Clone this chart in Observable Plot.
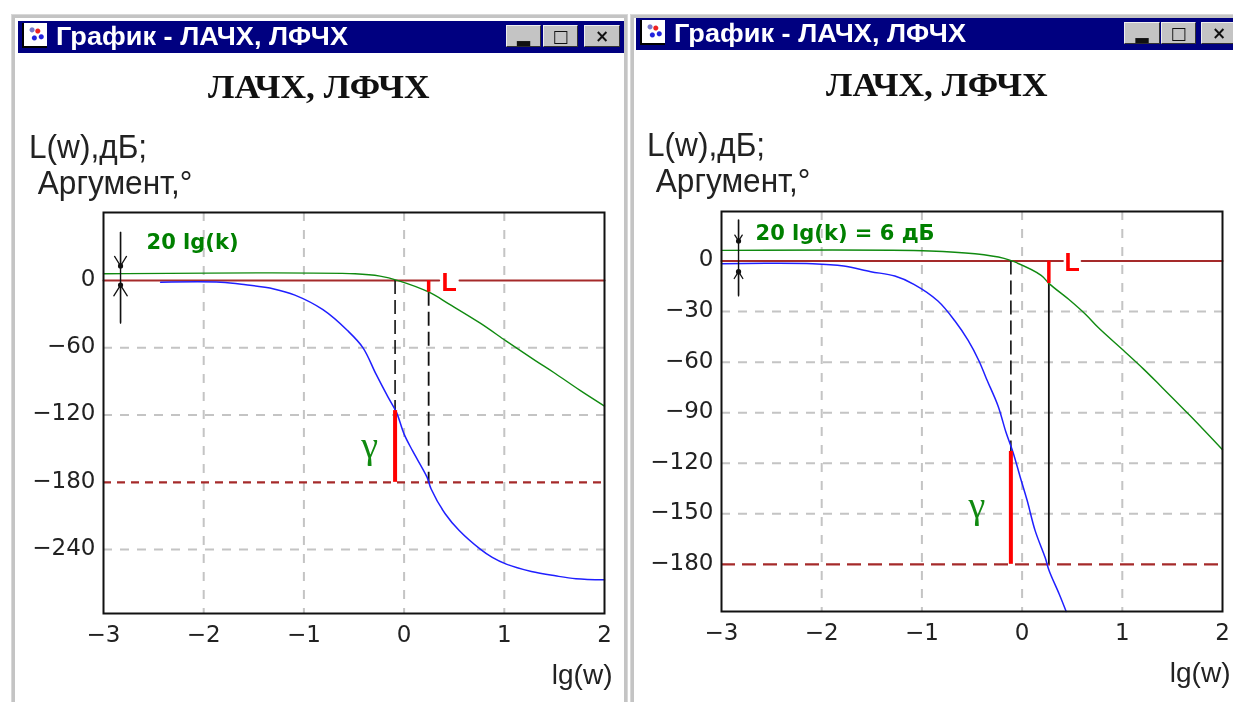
<!DOCTYPE html>
<html lang="ru"><head><meta charset="utf-8">
<script src="https://cdn.jsdelivr.net/npm/d3@7"></script>
<script src="https://cdn.jsdelivr.net/npm/@observablehq/plot@0.6"></script>
<style>
html,body{margin:0;padding:0;background:#fff;overflow:hidden}
#page{position:relative;width:1233px;height:702px;overflow:hidden;background:#fff;filter:blur(.45px)}
#page div{position:absolute;white-space:pre}
.frame{background:#fff;border:1px solid #d8d8d8;box-shadow:inset 0 0 0 3px #c4c4c4;box-sizing:border-box}
.bar{background:#000080}
.wt{color:#fff;font:bold 23px "Liberation Sans";transform-origin:0 0;transform:scale(1.18,1.12)}
.btn{background:#c4c4c4;border:1px solid;border-color:#eee #333 #333 #eee;box-sizing:border-box;color:#111;font:bold 17px/20px "DejaVu Sans";text-align:center}
.icon{background:radial-gradient(circle at 60% 35%,#e22 2px,transparent 3px),radial-gradient(circle at 45% 65%,#22d 2px,transparent 3px),radial-gradient(circle at 75% 60%,#22d 2px,transparent 3px),radial-gradient(circle at 35% 30%,#77c 2px,transparent 3px),#fff;border-left:2px solid #000;border-bottom:2px solid #000;box-sizing:border-box}
.ct{font:bold 30px "Liberation Serif";color:#111;transform-origin:0 0;transform:scale(1.18,1.1)}
.yl{font:27px "Liberation Sans";color:#222;transform-origin:0 0;transform:scale(1.17,1.2)}
svg{position:absolute;overflow:visible;background:transparent}
</style></head><body><div id="page"></div>
<script>
const windowTitle = "График - ЛАЧХ, ЛФЧХ";
const chartTitle = "ЛАЧХ, ЛФЧХ";
const yLabel1 = "L(w),дБ;";
const yLabel2 = " Аргумент,°";
const xLabel = "lg(w)";
const xTicks = [-3,-2,-1,0,1,2];

// Left chart
const yTicksA = [0,-60,-120,-180,-240];
const blueAx = [-2.43,-1.83,-1.58,-1.3,-1.09,-0.81,-0.565,-0.41,-0.28,-0.16,-0.076,0,0.085,0.23,0.27,0.41,0.55,0.76,0.88,1.02,1.27,1.51,1.715,2];
const blueAy = [-1.5,-1.5,-3.8,-7.5,-13,-26,-44.6,-60,-83.5,-104,-117.6,-137,-152,-175.6,-186,-208,-223,-239.6,-247,-253,-259.5,-263.4,-266,-267];
const greenAx = [-3,-0.49,-0.24,-0.06,0.25,0.45,0.76,1.02,1.31,1.49,1.756,2];
const greenAy = [6,6,3.9,0,-10.4,-21,-38,-54,-71.4,-81.8,-98,-112];

// Right chart
const yTicksB = [0,-30,-60,-90,-120,-150,-180];
const blueBx = [-3,-2.09,-1.78,-1.51,-1.27,-1.08,-0.84,-0.67,-0.54,-0.43,-0.355,-0.24,-0.16,-0.09,-0.02,0.05,0.13,0.23,0.27,0.37,0.44];
const blueBy = [-1.6,-1.6,-3,-6.3,-8.9,-13.8,-23.7,-35.6,-47,-59.3,-70,-86,-101.8,-113.6,-128,-142,-160,-176,-183.8,-197.6,-208];
const greenBx = [-3,-0.92,-0.47,-0.18,-0.08,0.19,0.27,0.485,0.64,0.76,1.01,1.21,1.38,1.68,2];
const greenBy = [6.3,6,4.3,1.6,-0.4,-8.5,-13.4,-23.7,-32,-39.5,-53,-64,-74,-92,-112];

const zip = (xs, ys) => xs.map((x, i) => ({x, y: ys[i]}));
const BROWN = "#a52a2a", GREEN = "#108a10", BLUE = "#1f1fff", RED = "#ff0000", GRID = "#c4c4c4";
const fmt = d => d < 0 ? "−" + (-d) : String(d);

function chart(o) {
  const zeroSegs = [[-3, o.gap[0]], [o.gap[1], 2]];
  return Plot.plot({
    width: o.w + 80 + 30, height: o.h + 10 + 89,
    marginLeft: 80, marginRight: 30, marginTop: 10, marginBottom: 89,
    style: {background: "transparent", fontFamily: "DejaVu Sans", fontSize: "23px", color: "#222", overflow: "visible"},
    x: {domain: [-3, 2]},
    y: {domain: o.yDomain},
    marks: [
      Plot.ruleX(xTicks.slice(1, -1), {stroke: GRID, strokeWidth: 2, strokeDasharray: "9,9"}),
      Plot.ruleY(o.yTicks.filter(d => d !== 0 && d !== -180), {stroke: GRID, strokeWidth: 2, strokeDasharray: "9,8"}),
      Plot.axisX({ticks: xTicks, tickFormat: fmt, tickSize: 0, tickPadding: 12, label: null, fontSize: 23, style: {letterSpacing: "2px"}}),
      Plot.axisY({ticks: o.yTicks, tickFormat: fmt, tickSize: 0, tickPadding: 8, label: null, dy: -2, fontSize: 23, style: {letterSpacing: "2px"}}),
      ...zeroSegs.map(s => Plot.line(s.map(x => ({x, y: 0})), {x: "x", y: "y", stroke: BROWN, strokeWidth: 2})),
      Plot.ruleY([-180], {stroke: BROWN, strokeWidth: 2.2, strokeDasharray: o.dash180}),
      Plot.ruleX([o.phaseX], {y1: 0, y2: o.phaseY, stroke: "#111", strokeWidth: 1.6, strokeDasharray: "14,6"}),
      Plot.ruleX([o.gainX], {y1: o.gainY, y2: -180, stroke: "#111", strokeWidth: 1.8, strokeDasharray: o.gainDash}),
      Plot.line(zip(o.greenX, o.greenY), {x: "x", y: "y", stroke: GREEN, strokeWidth: 1.4, curve: "catmull-rom"}),
      Plot.line(zip(o.blueX, o.blueY), {x: "x", y: "y", stroke: BLUE, strokeWidth: 1.5, curve: "catmull-rom"}),
      Plot.ruleX([o.phaseX], {y1: o.phaseY, y2: -180, stroke: RED, strokeWidth: 4}),
      Plot.ruleX([o.gainX], {y1: 0, y2: o.gainY, stroke: RED, strokeWidth: 3.5}),
      Plot.ruleX([o.arrowX], {y1: o.arrowTop, y2: o.arrowBottom, stroke: "#111", strokeWidth: 1.4}),
      Plot.arrow([{}], {x1: o.arrowX, x2: o.arrowX, y1: o.arrowTop, y2: o.tipTop, stroke: "#111", strokeWidth: 1.3, headLength: 42, headAngle: 64, bend: 0}),
      Plot.arrow([{}], {x1: o.arrowX, x2: o.arrowX, y1: o.arrowBottom, y2: o.tipBottom, stroke: "#111", strokeWidth: 1.3, headLength: 42, headAngle: 64, bend: 0}),
      Plot.dot([o.tipTop, o.tipBottom], {x: () => o.arrowX, y: d => d, r: 2.6, fill: "#111"}),
      Plot.text([o.kLabel], {x: o.kX, y: o.kY, text: d => d, textAnchor: "start", fill: "#008000", fontWeight: "bold", fontSize: 21, fontFamily: "DejaVu Sans"}),
      Plot.text(["L"], {x: o.lX, y: o.lY, text: d => d, fill: RED, fontWeight: "bold", fontSize: 25, fontFamily: "Liberation Sans"}),
      Plot.text(["γ"], {x: o.gX, y: o.gY, text: d => d, fill: GREEN, fontSize: 38, fontFamily: "Liberation Serif"}),
      Plot.frame({stroke: "#111", strokeWidth: 2}),
      Plot.text([xLabel], {frameAnchor: "bottom-right", text: d => d, dx: 8, dy: 70, fontSize: 28, fill: "#222", textAnchor: "end", fontFamily: "Liberation Sans", style: {letterSpacing: "1.5px"}})
    ]
  });
}

const page = document.getElementById("page");
function div(cls, l, t, w, h, txt) {
  const d = document.createElement("div");
  d.className = cls;
  d.style.left = l + "px"; d.style.top = t + "px";
  if (w != null) d.style.width = w + "px";
  if (h != null) d.style.height = h + "px";
  if (txt != null) d.textContent = txt;
  page.appendChild(d);
  return d;
}

function win(o, c) {
  div("frame", o.fx, o.fy, o.fw, 720);
  div("bar", o.bx, o.by, o.bw, 32);
  div("icon", o.bx + 4, o.by + 2, 25, 25);
  div("wt", o.bx + 38, o.by + 0, null, null, windowTitle);
  o.btn.forEach((b, i) => {
    div("btn", b, o.by + 4, o.btnW[i], 22, ["▂", "□", "×"][i]);
  });
  div("ct", o.tx, o.ty, null, null, chartTitle);
  div("yl", o.lx, o.ly, null, null, yLabel1);
  div("yl", o.lx, o.ly + 36, null, null, yLabel2);
  const svg = chart(c);
  svg.style.left = (c.left - 80) + "px";
  svg.style.top = (c.top - 10) + "px";
  page.appendChild(svg);
}

win({fx: 11, fy: 14, fw: 617, bx: 18, by: 21, bw: 606, btn: [506, 543, 584], btnW: [35, 35, 36], tx: 208, ty: 68, lx: 29, ly: 129},
    {left: 103, top: 212, w: 501, h: 401, yDomain: [-297, 60.7], yTicks: yTicksA,
     gap: [0.35, 0.553], dash180: "8,6", phaseX: -0.09, phaseY: -116, gainX: 0.245, gainY: -10.4, gainDash: "14,6",
     greenX: greenAx, greenY: greenAy, blueX: blueAx, blueY: blueAy,
     arrowX: -2.83, arrowTop: 43, arrowBottom: -38, tipTop: 13, tipBottom: -4,
     kLabel: "20 lg(k)", kX: -2.57, kY: 34, lX: 0.45, lY: -2, gX: -0.345, gY: -147});

win({fx: 630, fy: 14, fw: 620, bx: 636, by: 18, bw: 600, btn: [1124, 1161, 1201], btnW: [36, 35, 36], tx: 826, ty: 66, lx: 647, ly: 127},
    {left: 721, top: 211, w: 501, h: 400, yDomain: [-208, 29.4], yTicks: yTicksB,
     gap: [0.407, 0.594], dash180: "14,7", phaseX: -0.112, phaseY: -113, gainX: 0.267, gainY: -13.4, gainDash: null,
     greenX: greenBx, greenY: greenBy, blueX: blueBx, blueY: blueBy,
     arrowX: -2.83, arrowTop: 24.3, arrowBottom: -20.7, tipTop: 11.9, tipBottom: -6.3,
     kLabel: "20 lg(k) = 6 дБ", kX: -2.66, kY: 16.6, lX: 0.5, lY: -1, gX: -0.45, gY: -145});
</script></body></html>
